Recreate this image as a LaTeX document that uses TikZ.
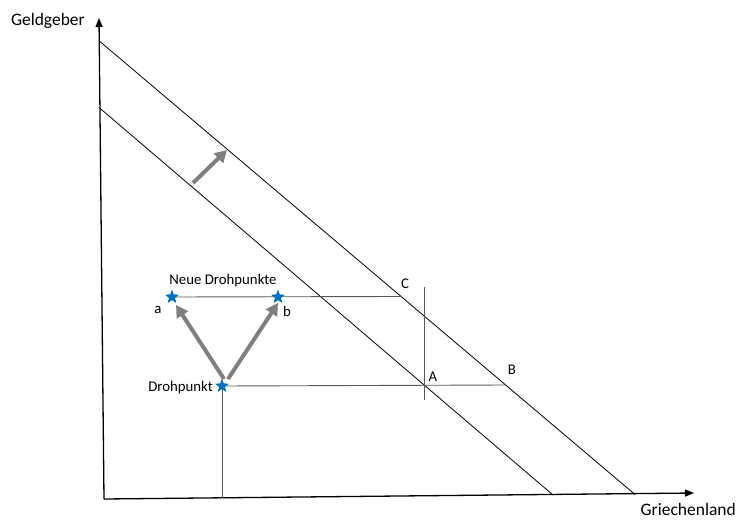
\documentclass[tikz,border=0pt]{standalone}
\usepackage{fontspec}
\setmainfont{Carlito}
\usetikzlibrary{arrows.meta,shapes.geometric}
\definecolor{starblue}{HTML}{0070C0}
\definecolor{arrgray}{HTML}{7F7F7F}
\tikzset{
  axis/.style={line width=1.3pt,-{Triangle[length=9pt,width=7pt]}},
  budget/.style={line width=0.8pt},
  guide/.style={line width=0.9pt,draw=black!65},
  bigarrow/.style={line width=4pt,draw=arrgray,-{Triangle[length=12pt,width=13pt]},shorten <=0pt},
  starnode/.style={star,star points=5,star point ratio=2.4,fill=starblue,minimum size=14pt,inner sep=0pt},
  axlabel/.style={font=\fontsize{17.5}{20}\selectfont,inner sep=0pt},
  smlabel/.style={font=\fontsize{14.8}{17}\selectfont,inner sep=0pt},
}
\begin{document}
\begin{tikzpicture}[x=1pt,y=-1pt]
\useasboundingbox (0,0) rectangle (741,519);
% axes
\coordinate (O) at (104,499);
\coordinate (ytop) at (99,18);
\coordinate (xend) at (694,493);
\draw[axis] (O) -- (ytop);
\draw[axis] (O) -- (xend);
\node[axlabel,anchor=east] (gl) at (85,21) {Geldgeber};
\node[axlabel,anchor=east] (gr) at (736,509.5) {Griechenland};
% budget lines
\coordinate (U1) at (99.3,41);
\coordinate (U2) at (635,494.5);
\coordinate (L1) at (99.6,108);
\coordinate (L2) at (553,495);
\draw[budget] (U1) -- (U2);
\draw[budget] (L1) -- (L2);
% points
\coordinate (C) at (401,296.5);
\coordinate (B) at (505,385);
\coordinate (Atop) at (424,287);
\coordinate (Abot) at (424,400);
\coordinate (Dbot) at (222,497.5);
\node[starnode] (d) at (222,386) {};
\node[starnode] (a) at (172,297) {};
\node[starnode] (b) at (278,297) {};
% guide lines
\draw[guide] (d.center) -- (B);
\draw[guide] (a.center) -- (C);
\draw[guide] (d.center) -- (Dbot);
\draw[guide] (Atop) -- (Abot);
\node[starnode] at (d) {};
\node[starnode] at (a) {};
\node[starnode] at (b) {};
% big arrows
\coordinate (s1) at (224,379);
\coordinate (s2) at (228,379);
\coordinate (e1) at (176,305);
\coordinate (e2) at (278,303);
\draw[bigarrow] (s1) -- (e1);
\draw[bigarrow] (s2) -- (e2);
\coordinate (s3) at (193,183);
\coordinate (e3) at (227,150);
\draw[bigarrow] (s3) -- (e3);
% labels
\node[smlabel] (nd) at (223,281) {Neue Drohpunkte};
\node[smlabel] (la) at (158,310) {a};
\node[smlabel] (lb) at (287,311) {b};
\node[smlabel,anchor=east] (ld) at (213,388) {Drohpunkt};
\node[smlabel] (lC) at (405,284) {C};
\node[smlabel] (lA) at (433,377) {A};
\node[smlabel] (lB) at (512,370) {B};
\end{tikzpicture}
\end{document}
